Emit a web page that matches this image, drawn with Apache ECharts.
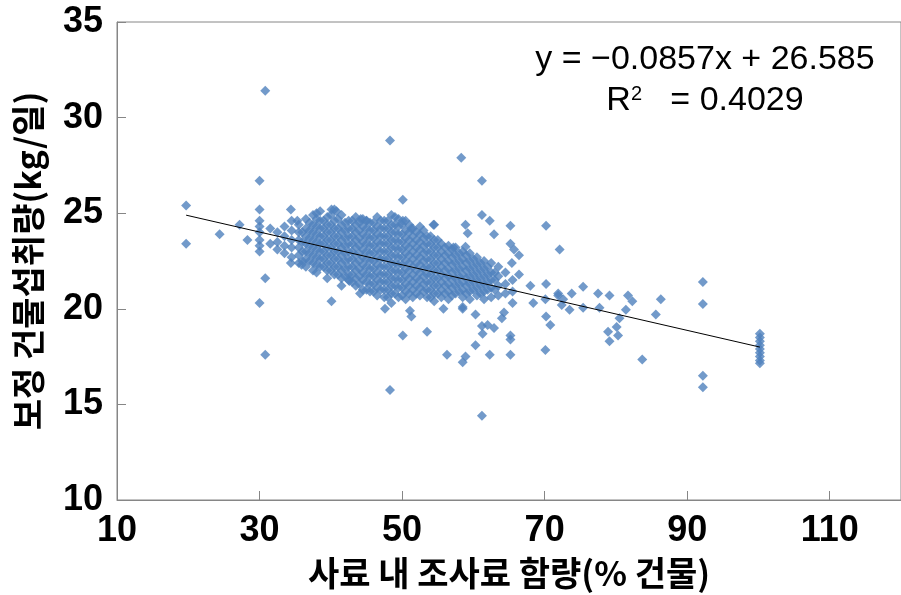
<!DOCTYPE html>
<html><head><meta charset="utf-8">
<script src="https://cdn.jsdelivr.net/npm/echarts@6/dist/echarts.min.js"></script>
<style>html,body{margin:0;padding:0;background:#fff}#c{width:901px;height:595px}</style>
</head><body><div id="c"></div><script>
// axis ticks
const xTicks = [10, 30, 50, 70, 90, 110];
const yTicks = [10, 15, 20, 25, 30, 35];

// scattered points (read individually)
const sparseLeft = [
  [19.7,25.4],[19.7,23.4],[24.4,23.9],[27.2,24.4],[28.3,23.6],
  [30.0,26.7],[30.0,25.2],[30.0,24.6],[30.0,24.3],[30.0,24.0],[30.0,23.6],[30.0,23.3],[30.0,23.0],
  [30.8,21.6],[30.0,20.3],[30.8,17.6],[30.8,31.4],
  [34.4,25.2],[35.3,24.6],[38.0,25.0],[40.1,25.2],[40.8,25.1],[44.2,24.7],[45.0,24.6],
  [34.4,22.4],[35.9,22.3],[38.0,21.9],[40.1,20.4],[42.6,21.45],[44.1,20.8],[47.6,20.0],
  [48.3,28.8],[50.1,25.7],[48.5,20.3]
];
const sparseMid = [
  [58.3,27.9],[61.2,26.7],[50.1,24.6],[51.3,24.2],[54.4,24.4],[58.9,24.4],[59.2,23.95],[61.2,24.9],
  [62.3,24.6],[62.9,23.9],[65.2,24.35],[65.2,23.4],[65.7,23.1],[66.4,22.8],[57.2,23.2],[58.9,23.25],
  [65.4,22.4],[66.4,21.8],[68.0,21.2],[70.2,21.3],[68.4,20.3],[70.1,20.5],[71.9,20.7],
  [50.1,18.6],[53.5,18.8],[56.3,17.6],[58.5,17.2],[58.9,17.5],[60.3,18.1],[62.3,17.6],[65.2,17.6],
  [65.2,18.6],[65.2,18.4],[61.2,19.1],[62.0,19.15],[62.9,19.0],[61.3,18.7],[51.1,19.9],[51.3,19.6],
  [55.8,20.0],[58.5,20.0],[60.3,19.7],[64.3,19.8],[64.0,19.5],[48.3,15.75],[61.2,14.4]
];
const sparseRight = [
  [70.2,24.35],[72.1,23.1],[71.9,20.8],[72.6,20.5],[73.8,20.8],[75.4,21.15],[77.5,20.8],[79.1,20.7],
  [81.7,20.7],[82.3,20.4],[86.3,20.5],[85.6,19.7],[81.4,19.95],[80.5,19.5],[80.1,19.05],[78.9,18.8],
  [79.1,18.3],[80.3,18.6],[77.7,20.05],[75.4,20.05],[73.5,19.95],[72.4,20.2],[83.7,17.35],
  [70.2,19.6],[70.8,19.15],[70.1,17.85],
  [92.2,21.4],[92.2,20.25],[92.2,16.5],[92.2,15.9],
  [100.2,18.7],[100.2,18.5],[100.2,18.3],[100.2,18.1],[100.2,17.9],[100.2,17.7],[100.2,17.5],[100.2,17.3],[100.2,17.15]
];

// dense cluster, read as columns: x value and the y values stacked there
const clusterColumns = [
  [31.5,[24.2,23.4]],
  [32.5,[24.0,23.5,23.1]],
  [33.5,[24.3,23.8,23.3,22.9]],
  [34.5,[24.6,24.1,23.6,23.2,22.7]],
  [35.5,[24.4,24.0,23.6,23.2,22.8,22.4]],
  [36.5,[24.7,24.2,23.8,23.4,23.0,22.6,22.2]],
  [37.5,[24.9,24.4,24.0,23.6,23.2,22.8,22.4,22.0]],
  [38.5,[25.1,24.6,24.2,23.8,23.4,23.0,22.6,22.2]],
  [39.5,[24.8,24.4,24.0,23.6,23.2,22.8,22.4,22.0,21.6]],
  [40.5,[25.2,24.6,24.2,23.8,23.4,23.0,22.6,22.2,21.8]],
  [41.5,[24.9,24.4,24.0,23.6,23.2,22.8,22.4,22.0,21.6,21.2]],
  [42.5,[24.6,24.2,23.8,23.4,23.0,22.6,22.2,21.8,21.5]],
  [43.5,[24.8,24.4,24.0,23.6,23.2,22.8,22.4,22.0,21.6,21.2]],
  [44.5,[24.7,24.3,23.9,23.5,23.1,22.7,22.3,21.9,21.5,21.0]],
  [45.5,[24.5,24.1,23.7,23.3,22.9,22.5,22.1,21.7,21.3,20.9]],
  [46.5,[24.8,24.3,23.9,23.5,23.1,22.7,22.3,21.9,21.5,21.1,20.7]],
  [47.5,[24.6,24.2,23.8,23.4,23.0,22.6,22.2,21.8,21.4,21.0,20.6]],
  [48.5,[24.9,24.4,24.0,23.6,23.2,22.8,22.4,22.0,21.6,21.2,20.8]],
  [49.5,[24.7,24.3,23.9,23.5,23.1,22.7,22.3,21.9,21.5,21.1,20.6]],
  [50.5,[24.6,24.1,23.7,23.3,22.9,22.5,22.1,21.7,21.3,20.9,20.5]],
  [51.5,[24.2,23.8,23.4,23.0,22.6,22.2,21.8,21.4,21.0,20.6]],
  [52.5,[24.3,23.9,23.5,23.1,22.7,22.3,21.9,21.5,21.1,20.7]],
  [53.5,[23.8,23.4,23.0,22.6,22.2,21.8,21.4,21.0,20.6]],
  [54.5,[24.4,23.6,23.2,22.8,22.4,22.0,21.6,21.2,20.8,20.4]],
  [55.5,[23.4,23.0,22.6,22.2,21.8,21.4,21.0,20.6]],
  [56.5,[23.3,22.9,22.5,22.1,21.7,21.3,20.9,20.5]],
  [57.5,[23.2,22.8,22.4,22.0,21.6,21.2,20.8]],
  [58.5,[23.0,22.6,22.2,21.8,21.4,21.0,20.6,20.1]],
  [59.5,[22.9,22.5,22.1,21.7,21.3,20.9,20.5]],
  [60.5,[22.7,22.3,21.9,21.5,21.1,20.7]],
  [61.5,[22.5,22.1,21.7,21.3,20.9,20.5]],
  [62.5,[22.4,21.9,21.5,21.1,20.6]],
  [63.5,[22.2,21.7,21.2,20.7]],
  [64.5,[21.9,21.3,20.8]],
  [65.5,[21.5,20.9,20.3]]
];
// points overlapping inside the core of the cluster
const coreColumns = [
  [36,[24.0,23.5,23.0,22.5]],
  [37,[24.5,24.1,23.7,23.3,22.9,22.5]],
  [38,[24.7,24.3,23.9,23.5,23.1,22.7,22.3]],
  [39,[24.6,24.2,23.8,23.4,23.0,22.6,22.2]],
  [40,[24.9,24.4,24.0,23.6,23.2,22.8,22.4,22.0]],
  [41,[24.7,24.2,23.8,23.4,23.0,22.6,22.2,21.8]],
  [42,[24.5,24.1,23.7,23.3,22.9,22.5,22.1,21.7]],
  [43,[24.6,24.2,23.8,23.4,23.0,22.6,22.2,21.8,21.4]],
  [44,[24.5,24.1,23.7,23.3,22.9,22.5,22.1,21.7,21.3]],
  [45,[24.6,24.2,23.8,23.4,23.0,22.6,22.2,21.8,21.4,21.0]],
  [46,[24.5,24.1,23.7,23.3,22.9,22.5,22.1,21.7,21.3,20.9]],
  [47,[24.6,24.2,23.8,23.4,23.0,22.6,22.2,21.8,21.4,21.0]],
  [48,[24.6,24.2,23.8,23.4,23.0,22.6,22.2,21.8,21.4,21.0,20.6]],
  [49,[24.8,24.4,24.0,23.6,23.2,22.8,22.4,22.0,21.6,21.2,20.8]],
  [50,[24.4,23.9,23.5,23.1,22.7,22.3,21.9,21.5,21.1,20.7]],
  [51,[24.4,24.0,23.6,23.2,22.8,22.4,22.0,21.6,21.2,20.8]],
  [52,[24.0,23.6,23.2,22.8,22.4,22.0,21.6,21.2,20.8]],
  [53,[24.1,23.7,23.3,22.9,22.5,22.1,21.7,21.3,20.9]],
  [54,[23.8,23.4,23.0,22.6,22.2,21.8,21.4,21.0,20.6]],
  [55,[23.6,23.2,22.8,22.4,22.0,21.6,21.2,20.8]],
  [56,[23.2,22.8,22.4,22.0,21.6,21.2,20.8]],
  [57,[23.1,22.7,22.3,21.9,21.5,21.1,20.7]],
  [58,[22.9,22.5,22.1,21.7,21.3,20.9]],
  [59,[22.8,22.4,22.0,21.6,21.2,20.8]],
  [60,[22.6,22.2,21.8,21.4,21.0]],
  [61,[22.4,22.0,21.6,21.2,20.8]],
  [62,[22.2,21.8,21.4,21.0]],
  [63,[21.9,21.5,21.0]]
];

// trend line end points (Excel linear fit)
const trendLine = [[19.7,24.897],[100.2,17.998]];
const equationText = 'y = \u22120.0857x + 26.585';
const r2Label = 'R';
const r2Value = '= 0.4029';

const clusterPoints = [];
clusterColumns.concat(coreColumns).forEach(([x, ys]) => ys.forEach(y => clusterPoints.push([x, y])));
const allPoints = sparseLeft.concat(clusterPoints, sparseMid, sparseRight);

const chart = echarts.init(document.getElementById('c'), null, {renderer: 'canvas'});
const tickFont = {fontFamily: 'Liberation Sans', fontWeight: 'bold', fontSize: 36, color: '#000'};
const titleFont = {fontFamily: 'Noto Sans CJK KR', fontWeight: 'bold', fontSize: 34, color: '#000'};
const eqFont = '34px "Liberation Sans", sans-serif';
chart.setOption({
  animation: false,
  backgroundColor: '#fff',
  grid: {left: 117, top: 22, right: -6, bottom: 95, show: true, borderColor: '#868686', borderWidth: 1},
  xAxis: {
    type: 'value', min: xTicks[0], max: 120, interval: 20,
    name: '사료 내 조사료 함량(% 건물)', nameLocation: 'middle', nameGap: 56,
    nameTextStyle: titleFont,
    axisLine: {show: true, lineStyle: {color: '#868686', width: 1}},
    axisTick: {show: true, inside: true, length: 9, lineStyle: {color: '#868686'}},
    axisLabel: Object.assign({margin: 13, showMaxLabel: false}, tickFont),
    splitLine: {show: false}
  },
  yAxis: {
    type: 'value', min: yTicks[0], max: yTicks[yTicks.length - 1], interval: 5,
    name: '보정 건물섭취량(kg/일)', nameLocation: 'middle', nameGap: 72,
    nameTextStyle: titleFont,
    axisLine: {show: true, lineStyle: {color: '#868686', width: 1}},
    axisTick: {show: true, inside: true, length: 9, lineStyle: {color: '#868686'}},
    axisLabel: Object.assign({margin: 14}, tickFont),
    splitLine: {show: false}
  },
  series: [
    {
      type: 'scatter', data: allPoints, symbol: 'diamond', symbolSize: 10,
      itemStyle: {color: '#4F81BD'}, z: 2
    },
    {
      type: 'line', data: trendLine, symbol: 'none', z: 3,
      lineStyle: {color: '#000', width: 1}
    }
  ],
  graphic: [
    {type: 'text', x: 705, y: 60, z: 10,
      style: {text: equationText, align: 'center', verticalAlign: 'middle', font: eqFont, fill: '#000'}},
    {type: 'text', x: 705, y: 101, z: 10,
      style: {
        text: '{r|' + r2Label + '}{s|2}{g|   }{r|' + r2Value + '}', align: 'center', verticalAlign: 'middle',
        rich: {
          r: {font: eqFont, fill: '#000'},
          s: {font: '20px "Liberation Sans", sans-serif', fill: '#000', padding: [0, 0, 14, 0]},
          g: {font: eqFont}
        }
      }}
  ]
});
</script></body></html>
